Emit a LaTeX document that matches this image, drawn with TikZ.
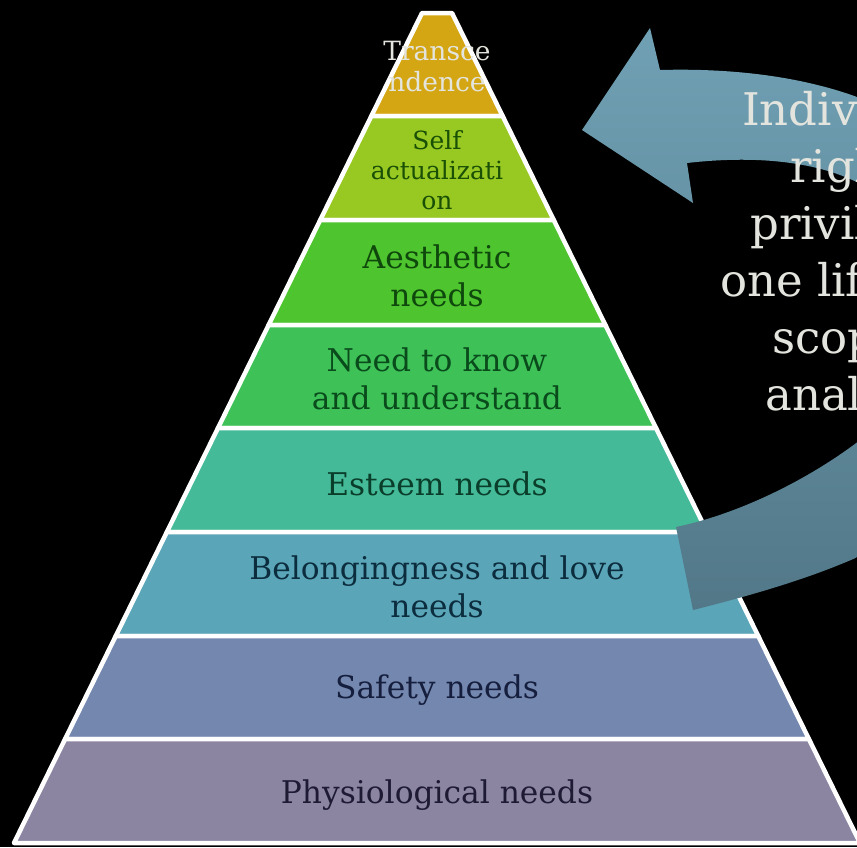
\documentclass[tikz,border=0pt]{standalone}
\usepackage{fontspec}
\setmainfont{DejaVu Serif}
\definecolor{c1}{RGB}{212,166,20}
\definecolor{c2}{RGB}{152,200,34}
\definecolor{c3}{RGB}{78,196,46}
\definecolor{c4}{RGB}{62,194,88}
\definecolor{c5}{RGB}{68,186,152}
\definecolor{c6}{RGB}{90,166,184}
\definecolor{c7}{RGB}{115,135,175}
\definecolor{c8}{RGB}{140,133,162}
\definecolor{t2}{RGB}{25,80,5}
\definecolor{t3}{RGB}{15,72,12}
\definecolor{t4}{RGB}{10,75,28}
\definecolor{t5}{RGB}{10,62,42}
\definecolor{t6}{RGB}{12,45,62}
\definecolor{t7}{RGB}{22,30,62}
\definecolor{t8}{RGB}{30,26,52}
\definecolor{lighttext}{RGB}{228,228,222}
\definecolor{arrowtop}{RGB}{112,160,180}
\definecolor{arrowbot}{RGB}{82,120,136}
\tikzset{
  layer/.style={draw=white, line width=4.5pt, line join=round},
  biglabel/.style={align=center, inner sep=0pt, font=\fontsize{31.3}{38}\selectfont},
  smalllabel/.style={align=center, inner sep=0pt, font=\fontsize{25}{30}\selectfont},
  sidetext/.style={anchor=base west, inner sep=0pt, text=lighttext, font=\fontsize{45}{57}\selectfont}
}
\begin{document}
\begin{tikzpicture}[x=1pt,y=-1pt]
\useasboundingbox (0,0) rectangle (857,847);
\clip (0,0) rectangle (857,847);
\fill[black] (0,0) rectangle (857,847);
% pyramid layers
\foreach \ya/\yb/\c in {13/116/c1,116/220/c2,220/325/c3,325/428/c4,428/532/c5,532/636/c6,636/739/c7,739/843/c8}{
  \pgfmathsetmacro\wa{15+0.4916*(\ya-13)}
  \pgfmathsetmacro\wb{15+0.4916*(\yb-13)}
  \filldraw[layer, fill=\c] (437-\wa,\ya) -- (437+\wa,\ya) -- (437+\wb,\yb) -- (437-\wb,\yb) -- cycle;
}
% labels
\node[smalllabel, text=lighttext, font=\fontsize{26.5}{31}\selectfont] (L1) at (437,67) {Transce\\ndence};
\node[smalllabel, text=t2] (L2) at (437,170) {Self\\actualizati\\on};
\node[biglabel, text=t3] (L3) at (437,276) {Aesthetic\\needs};
\node[biglabel, text=t4] (L4) at (437,379) {Need to know\\and understand};
\node[biglabel, text=t5] (L5) at (437,484) {Esteem needs};
\node[biglabel, text=t6] (L6) at (437,587) {Belongingness and love\\needs};
\node[biglabel, text=t7] (L7) at (437,690) {Safety needs};
\node[biglabel, text=t8] (L8) at (437,795) {Physiological needs};
% curved arrow
\path[top color=arrowtop, bottom color=arrowbot]
  (693,610) .. controls (893,560) and (1020,500) .. (1020,330)
  .. controls (1020,100) and (800,66) .. (660,70)
  -- (650,28) -- (582,130) -- (693,203) -- (687,163)
  .. controls (800,150) and (940,170) .. (940,330)
  .. controls (940,400) and (796,502) .. (676,527) -- cycle;
% side text
\node[sidetext] (s1) at (742,125) {Indiv};
\node[sidetext] (s2) at (790,182) {righ};
\node[sidetext] (s3) at (750,239) {privil};
\node[sidetext] (s4) at (720,296) {one lif};
\node[sidetext] (s5) at (772,353) {scop};
\node[sidetext] (s6) at (765,410) {anal};
\end{tikzpicture}
\end{document}
